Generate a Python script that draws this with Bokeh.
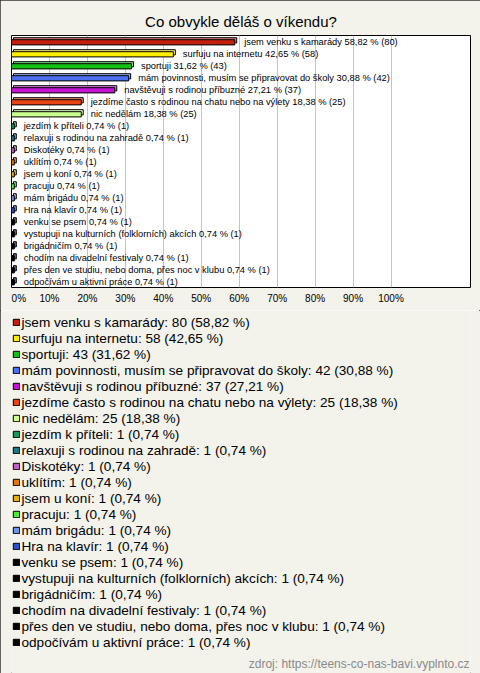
from bokeh.plotting import figure
from bokeh.layouts import column
from bokeh.models import ColumnDataSource, Range1d, FixedTicker, Legend, LegendItem, Label
from bokeh.core.properties import value
from bokeh.embed import file_html
from bokeh.resources import INLINE

# ---------------- data ----------------
title_text = "Co obvykle děláš o víkendu?"
source_text = "zdroj: https://teens-co-nas-bavi.vyplnto.cz"

categories = [
    "jsem venku s kamarády",
    "surfuju na internetu",
    "sportuji",
    "mám povinnosti, musím se připravovat do školy",
    "navštěvuji s rodinou příbuzné",
    "jezdíme často s rodinou na chatu nebo na výlety",
    "nic nedělám",
    "jezdím k příteli",
    "relaxuji s rodinou na zahradě",
    "Diskotéky",
    "uklítím",
    "jsem u koní",
    "pracuju",
    "mám brigádu",
    "Hra na klavír",
    "venku se psem",
    "vystupuji na kulturních (folklorních) akcích",
    "brigádničím",
    "chodím na divadelní festivaly",
    "přes den ve studiu, nebo doma, přes noc v klubu",
    "odpočívám u aktivní práce",
]
counts = [80, 58, 43, 42, 37, 25, 25, 1, 1, 1, 1, 1, 1, 1, 1, 1, 1, 1, 1, 1, 1]
percents = [58.82, 42.65, 31.62, 30.88, 27.21, 18.38, 18.38,
            0.74, 0.74, 0.74, 0.74, 0.74, 0.74, 0.74, 0.74,
            0.74, 0.74, 0.74, 0.74, 0.74, 0.74]
colors = ["#c41e0c", "#ffee00", "#14c014", "#4a70f0", "#c414d4", "#e84414",
          "#ccff90", "#18985a", "#187888", "#c060c0", "#e07808", "#e8b008",
          "#50e83c", "#6c94e4", "#2a52c4",
          "#000000", "#000000", "#000000", "#000000", "#000000", "#000000"]
tick_values = [0, 10, 20, 30, 40, 50, 60, 70, 80, 90, 100]
tick_labels = ["0%", "10%", "20%", "30%", "40%", "50%", "60%", "70%", "80%", "90%", "100%"]

# ---------------- helpers ----------------
def fmt(v):
    return f"{v:.2f}".replace(".", ",")

def lighten(hexc, t=0.45):
    r, g, b = int(hexc[1:3], 16), int(hexc[3:5], 16), int(hexc[5:7], 16)
    r, g, b = [int(c + (255 - c) * t) for c in (r, g, b)]
    return f"#{r:02x}{g:02x}{b:02x}"

n = len(categories)
rows = list(range(n))
bar_labels = [f"{c} {fmt(p)} % ({k})" for c, p, k in zip(categories, percents, counts)]
legend_labels = [f"{c}: {k} ({fmt(p)} %)" for c, p, k in zip(categories, percents, counts)]

BG = "#f3f2eb"
FONT = "Liberation Sans"

# ---------------- layout ----------------
W = 480
H1, H2 = 310, 363
ML, MT = 11, 35
frame_w, frame_h = 459, 252
MR = W - ML - frame_w
MB = H1 - MT - frame_h
px_per_pct = 3.795
x_max = frame_w / px_per_pct
px_per_row = frame_h / n

dx = 2.0 / px_per_pct          # 3D depth, horizontal
dy = 2.0 / px_per_row          # 3D depth, vertical
half_h = 2.6 / px_per_row      # half height of front face
shift = 0.8 / px_per_row       # front face slight downward shift

src = ColumnDataSource(dict(
    row=rows,
    left=[0.0] * n,
    right=percents,
    back_left=[dx] * n,
    back_right=[p + dx for p in percents],
    top=[r + shift - half_h for r in rows],
    bottom=[r + shift + half_h for r in rows],
    back_top=[r + shift - half_h - dy for r in rows],
    back_bottom=[r + shift + half_h - dy for r in rows],
    color=colors,
    light=[lighten(c) for c in colors],
    label=bar_labels,
))

# ---------------- chart figure ----------------
p = figure(width=W, height=H1,
           x_range=Range1d(0, x_max),
           y_range=Range1d(n - 0.5, -0.5),
           y_axis_location=None,
           toolbar_location=None,
           output_backend="svg",
           min_border_left=ML, min_border_right=MR,
           min_border_top=MT, min_border_bottom=MB,
           title=title_text)

p.background_fill_color = "white"
p.border_fill_color = BG
p.outline_line_color = "black"
p.outline_line_width = 1

p.title.align = "center"
p.title.text_font = FONT
p.title.text_font_size = "15px"
p.title.text_font_style = "normal"
p.title.text_color = "black"
p.title.standoff = 11

ticker = FixedTicker(ticks=tick_values)
xa = p.xaxis[0]
xa.ticker = ticker
overrides = dict(zip(tick_values, tick_labels))
overrides[0] = "\u00a0" * 4 + tick_labels[0]
xa.major_label_overrides = overrides
xa.axis_line_color = None
xa.major_tick_line_color = None
xa.minor_tick_line_color = None
xa.major_tick_out = 0
xa.major_tick_in = 0
xa.major_label_standoff = 5
xa.major_label_text_font = FONT
xa.major_label_text_font_size = "10px"
xa.major_label_text_color = "black"

p.xgrid.ticker = ticker
p.xgrid.grid_line_color = "#c4c4c4"
p.ygrid.grid_line_color = None

p.quad(left="back_left", right="back_right", top="back_top", bottom="back_bottom",
       source=src, fill_color="light", line_color="black", line_width=1)
p.quad(left="left", right="right", top="top", bottom="bottom",
       source=src, fill_color="color", line_color="black", line_width=1)

p.text(x="right", y="row", text="label", source=src, x_offset=9.5,
       text_baseline="middle", text_align="left",
       text_font=value(FONT), text_font_size="9.3px", text_color="black")

# ---------------- legend figure ----------------
q = figure(width=W, height=H2,
           x_range=Range1d(0, W), y_range=Range1d(0, H2),
           x_axis_location=None, y_axis_location=None,
           toolbar_location=None, output_backend="svg",
           min_border=0, min_border_left=0, min_border_right=0,
           min_border_top=0, min_border_bottom=0)
q.background_fill_color = BG
q.border_fill_color = BG
q.outline_line_color = None
q.xgrid.grid_line_color = None
q.ygrid.grid_line_color = None

swatch = q.quad(left="left", right="right", top="top", bottom="bottom",
                source=src, fill_color="color", line_color="black", line_width=1,
                visible=False)

# the column aligns this figure's frame with the chart's frame (left edge at ML)
legend_top = 4
legend = Legend(items=[LegendItem(label=legend_labels[i], renderers=[swatch], index=i) for i in rows],
                location=(0.5, H2 - legend_top - n * 16), orientation="vertical",
                glyph_width=8, glyph_height=8, label_height=16, label_width=10,
                spacing=0, padding=0, margin=0, label_standoff=2,
                label_text_font=FONT, label_text_font_size="13.6px",
                label_text_color="black",
                background_fill_alpha=0, border_line_alpha=0,
                click_policy="none")
q.add_layout(legend)

q.add_layout(Label(x=469 - ML, y=10, x_units="screen", y_units="screen",
                   text=source_text, text_align="right", text_baseline="middle",
                   text_font=FONT, text_font_size="12px",
                   text_color="#8a8a8a"))

layout = column(p, q, spacing=0,
                styles={"outline": "1px solid #333333", "outline-offset": "-1px"})

open("out.html", "w").write(file_html(layout, INLINE))
